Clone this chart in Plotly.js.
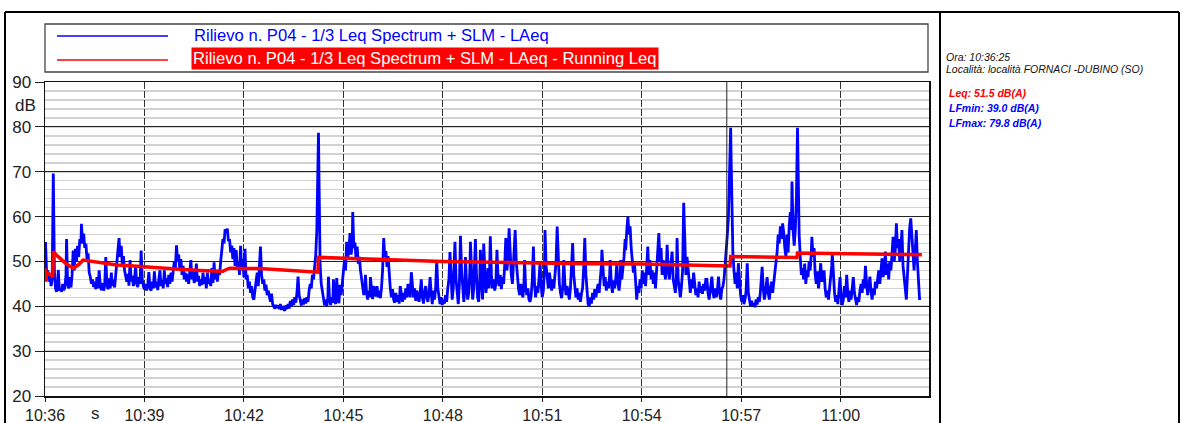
<!DOCTYPE html>
<html>
<head>
<meta charset="utf-8">
<script src="https://cdn.plot.ly/plotly-3.0.1.min.js"></script>
<style>
html,body{margin:0;padding:0;background:#fff;}
#chart{width:1183px;height:423px;}
</style>
</head>
<body>
<div id="chart"></div>
<script>
// ---------- DATA ----------
const seriesNames = [
  "Rilievo n. P04 - 1/3 Leq Spectrum + SLM - LAeq",
  "Rilievo n. P04 - 1/3 Leq Spectrum + SLM - LAeq - Running Leq"
];
// seconds elapsed since 10:36:25, tick labels every 3 minutes
const tickSeconds = [0,180,360,540,720,900,1080,1260,1440];
const tickLabels = ["10:36","10:39","10:42","10:45","10:48","10:51","10:54","10:57","11:00"];
const markerTime = 1234;
const yTicks = [20,30,40,50,60,70,80,90];

// LAeq short samples [seconds, dB]
const laeqPoints = [
[0,47.5],[1,54.3],[3,47],[5,48],[7,45.5],[9,46.8],[11,44.5],[13,46],[15,69.6],[17,48],[19,44],[21,43.2],[23,45],[24,48.1],[26,43.5],[28,44],[30,43.2],[32,45],[34,43.6],[36,44.2],[38,47],[39,55],[41,45],[43,44],[45,46.5],[47,44.2],[49,47],[51,52.4],[53,48],[55,52.8],[57,50],[59,53.5],[61,51],[63,55],[65,54],[66,58.4],[68,54],[70,56.2],[72,53],[74,54],[76,50.5],[78,51.8],[80,47.5],[82,46.6],[84,45],[86,46],[88,44.3],[90,45.5],[92,43.8],[94,46.5],[96,44],[98,48],[100,44.5],
[102,43.6],[104,45.2],[106,43.5],[108,44.5],[110,51],[112,45],[114,43.8],[116,46.2],[118,44],[120,47.5],[122,44.5],[124,46],[126,44.2],[128,47],[130,49.5],[132,53],[134,55.2],[136,51],[138,53.5],[140,49],[142,51.2],[144,48],[146,47],[148,45.5],[150,47.2],[152,44.6],[154,50.3],[156,45.5],[158,46.8],[160,44.5],[162,46],[164,49],[166,45],[168,44.3],[170,46.5],[172,45],[174,52.4],[176,46],[178,44.5],[180,43.8],[182,45],[184,43.5],[186,44.8],[188,47.6],[190,44],[192,43.5],[194,45.5],[196,44],[198,47.8],[200,44.2],
[202,45.5],[204,43.6],[206,46],[208,48],[210,44.5],[212,45.8],[214,44],[216,48],[218,45],[220,46.2],[222,44.3],[224,47],[226,45],[228,47.5],[230,45.5],[232,47.5],[234,50],[236,48.5],[238,53.6],[240,50],[242,51.5],[244,48],[246,50.5],[248,47],[250,49],[252,46],[254,47.5],[256,45.5],[258,47.2],[260,45],[262,47.5],[264,50.3],[266,46],[268,47.8],[270,45.2],[272,46.5],[274,49.5],[276,45.5],[278,46.8],[280,44.5],[282,46],[284,44.8],[286,47.5],[288,45],[290,46.5],[292,44],[294,47.5],[296,45],[298,46],[300,44.5],[302,48.5],[304,45.2],[306,49.8],[308,46],[310,47.5],[312,45.5],[314,48],[316,47],[318,50],[320,52.5],[322,55],[324,54],[326,57.2],[328,56.5],[330,57.3],
[332,54.5],[334,55],[336,52],[338,53.5],[340,50.5],[342,53],[344,49],[346,52.5],[348,48.5],[350,50],[352,47],[354,53.5],[356,48],[358,50.5],[360,46.5],[362,52.8],[364,46],[366,47],[368,44],[370,45.5],[372,43],[374,44.5],[376,42],[378,41.5],[380,43.5],[382,45],[384,47.5],[386,44.5],[388,50],[390,53.3],[392,47],[394,45],[396,46],[398,43.5],[400,44.8],[402,42.5],[404,43.5],[406,42],[408,41],[410,42.8],[412,40.5],[414,40],[416,39.5],[418,40.3],[420,39.6],
[422,40.2],[424,39.4],[426,40.5],[428,39.2],[430,40],[432,39.3],[434,39],[436,40.2],[438,39.4],[440,40.5],[442,39.5],[444,41.2],[446,40],[448,41.5],[450,40.3],[452,42],[454,40.8],[456,43],[458,46.6],[460,42.5],[462,41],[464,40.2],[466,41.5],[468,40.4],[470,41.8],[472,40.6],[474,42],[476,41],[478,43.5],[480,45],[482,44],[484,47],[486,46],[488,49],[490,51.5],[492,57],[494,70],[495,78.7],[496,68],[497,58],[498,49],[500,45],
[502,43],[504,41],[506,40.2],[508,41.5],[510,40],[512,42],[513,46.6],[515,41.5],[517,40.3],[519,42],[521,40.8],[522,46],[524,41.5],[526,40.5],[528,46.3],[530,41.8],[532,40.7],[534,44.8],[536,42.5],[538,45],[540,48.5],[542,50.3],[544,48],[546,54.4],[548,51],[550,52.3],[552,56.3],[554,51.5],[556,53.5],[557,61],[559,53],[561,54.2],[563,50.5],[565,53.3],[567,49.5],[569,51],[571,48],[573,46],[575,44.5],[577,42.5],[579,44],[580,47],[582,43],[584,41.5],[586,43.5],[588,42],[589,46.5],[591,43],[593,41.6],[595,44.5],[597,43],[599,42.2],[601,44.5],[603,42],[605,43.5],[607,41.8],[609,44],[611,48],[613,55.2],[615,51],[617,52.3],[619,48.8],[621,51.2],[623,47],
[625,44],[627,42],[629,43.8],[631,41.5],[633,40.8],[635,43],[637,41],[639,42.5],[641,40.6],[643,44.5],[645,42],[647,41],[649,43],[651,41.5],[653,44],[655,42],[657,45],[659,43],[661,42],[663,47.6],[665,43.5],[667,42],[669,44],[671,41.2],[673,43.5],[675,42.5],[677,41],[679,43],[681,46],[683,42],[685,40.6],[687,43],[689,44.5],[691,42],[693,41],[695,43],[697,46.5],[699,42.8],[701,40.5],[703,43.5],[705,41.5],[707,44],[709,50.3],[711,44],[713,41.5],[715,40.5],[717,42],[719,40.3],[721,41.5],[723,40.6],[725,42.5],[727,41],[729,44],[731,46],[733,52.1],[735,45],[737,41.5],[739,44],[741,50],[742,54.4],[744,46],[746,42],[748,40.5],[750,45],[752,55.7],[754,48],[756,43],[758,41],[760,44],[761,51],[763,45],[765,41.5],[767,43],[769,48],[770,54.4],[772,46],[774,41.5],[776,44],[778,50],[779,55],[781,47],[783,42],[785,41],[787,46],[788,52.6],[790,45],[792,41.5],[794,54],[796,47],[798,43],
[800,45],[802,48.5],[804,44],[806,55.6],[808,47],[810,44],[812,46],[814,43.5],[816,45],[818,52.6],[820,46],[822,44.5],[824,47],[826,43.8],[828,46.5],[830,45],[832,49],[834,55.2],[836,48],[838,50.5],[840,57.4],[842,51],[844,47],[846,45],[848,49],[850,54],[851,57],[853,50],[855,46],[857,44],[859,42.5],[861,45],[863,43],[865,42],[867,45.5],[868,50.3],[870,44],[872,42.5],[874,44],[876,41.5],[878,41],[880,42.5],[882,46],[884,53.3],[886,45],[888,42],[890,44.5],[892,43],[894,46],[896,49.6],[898,44.5],[900,42],[902,43.5],[904,48],[905,57],[907,49],[909,46.5],[911,44],[913,47.5],[915,45],[917,43.5],[919,46],[921,44],[923,47],[925,50],[927,57.8],[929,49],[931,45],[933,43],[935,41.8],[937,44],[939,50.3],[941,45],[943,42.5],[945,44.5],[947,43],[949,41.5],[951,44],[953,48],[955,54.1],[957,47],[959,43.5],[961,42],[963,44],[965,41.5],[967,43],[969,41],[971,42.8],[973,44],[975,48.5],[977,55.2],[979,47],[981,43],[983,40.5],[985,40],[987,42],[989,40.6],[991,43],[993,41.5],[995,43.8],[997,42],[999,44],
[1001,45],[1003,43],[1005,46],[1007,49],[1008,52.6],[1010,47],[1012,44.5],[1014,46.5],[1016,43.5],[1018,45.5],[1020,44],[1022,47],[1023,50.3],[1025,45],[1027,43],[1029,45.8],[1031,44],[1033,46],[1035,49.7],[1037,45],[1039,43.5],[1041,46],[1042,50.3],[1044,46],[1046,48],[1048,51],[1050,55],[1051,52.5],[1053,57],[1055,60],[1057,56],[1059,57.8],[1061,53],[1063,50],[1065,47.5],[1067,49.5],[1069,44],[1071,41.5],[1073,44.5],[1075,43],[1077,46],[1079,44],[1081,48],[1083,45],[1085,47.5],[1087,44.5],[1089,48.5],[1091,53.3],[1093,47],[1095,50.3],[1097,46],[1099,48],[1101,45],[1103,47.5],[1105,44],[1107,49],[1109,51],[1111,56.3],[1113,50],[1115,53],[1117,47],[1119,50.3],[1121,48],[1123,46],[1125,50],[1126,53.7],[1128,48],[1130,46],[1132,48.5],[1134,51],[1135,52.2],[1137,46],[1139,44],[1141,43],[1143,47],[1144,55.2],[1146,46],[1148,43],[1150,42],[1152,44.5],[1154,48],[1156,63.1],[1158,52],[1160,47],[1162,51],[1164,48],[1166,45],[1168,43],[1170,46],[1172,44],[1174,47.5],[1176,45],[1178,42.5],[1180,44],[1182,42],[1184,45.5],[1186,43],[1188,44.5],[1190,42.8],[1192,45],[1194,43.5],[1196,46],
[1198,46],[1200,43],[1202,41.5],[1204,43.5],[1206,45],[1207,46.6],[1209,43],[1211,41.8],[1213,44],[1215,42],[1217,43.5],[1219,46.6],[1221,43],[1223,41.5],[1225,43.8],[1227,44.5],[1229,46],[1231,49],[1233,52],[1235,56],[1237,60],[1239,70],[1241,79.8],[1242,72],[1243,62],[1245,52],[1247,48],[1249,45],[1251,47.5],[1253,44],[1255,49.6],[1257,45],[1259,42.5],[1261,41],[1263,42.5],[1265,40.5],[1267,41.5],[1269,43.5],[1271,49.6],[1273,43],[1275,40.8],[1277,40],[1279,41.2],[1281,40.2],[1283,40.6],[1285,39.8],[1287,41.5],[1289,40.4],[1291,42],[1293,41],[1295,43.5],[1297,46],[1298,48.8],[1300,44],[1302,41.5],[1304,43],[1306,45],[1307,46.5],[1309,43],[1311,41.5],[1313,44],[1315,45.5],[1317,43],[1319,45],[1321,47],[1323,49],[1325,52],[1327,56],[1329,54],[1331,57.8],[1333,55],[1335,58.5],[1337,56.5],[1339,53],[1341,51],[1343,56],[1345,52],[1347,58],[1349,61],[1351,57],[1352,67.8],[1354,57],[1356,53.5],[1358,57],[1360,64],[1362,79.8],[1363,68],[1365,56],[1367,51],[1369,47],[1371,48.5],[1373,46],[1375,49.5],[1377,45],[1379,48],[1381,46.5],[1383,50],[1385,48],[1387,52],[1388,55.5],[1390,51],[1392,53],[1394,47],[1396,45],[1398,47.8],[1400,44],
[1402,46.5],[1404,49.6],[1406,45.5],[1408,47],[1410,48],[1412,44],[1414,42],[1416,43.5],[1418,41.5],[1420,44],[1422,46],[1424,49],[1425,51.8],[1427,46],[1429,43],[1431,41],[1433,42.5],[1435,40.5],[1437,43],[1439,46.5],[1441,42],[1443,40.3],[1445,41.5],[1447,44.5],[1449,42],[1451,47],[1453,43],[1455,41],[1457,43.5],[1459,41.5],[1461,44],[1463,46.5],[1465,43],[1467,41],[1469,40.3],[1471,42],[1473,41],[1475,43.5],[1477,45],[1479,43],[1481,46],[1483,44],[1485,49],[1487,45],[1489,42.5],[1491,44.5],[1493,46.6],[1495,43.5],[1497,41.5],[1499,44],[1501,42.5],[1503,45.5],[1505,44],[1507,46],[1509,48],[1511,45],[1513,47.5],[1515,50.7],[1517,46.5],[1519,48],[1521,52.2],[1523,47],[1525,49.5],[1527,46],[1529,50],[1531,48],[1533,51.5],[1535,55.5],[1537,50],[1539,52.5],[1541,58.5],[1543,53],[1545,55],[1547,50],[1549,53],[1551,57],[1553,49],[1555,46],[1557,44],[1559,41.5],[1561,47],[1563,53],[1565,57.5],[1567,59.6],[1569,55],[1571,52],[1573,48],[1575,52],[1577,57],[1579,50],[1581,45.8],[1583,41.4]
];

// Running Leq [seconds, dB]
const runningLeqPoints = [
[0,48.5],[1,45.5],[3,47.5],[8,47.2],[14,46.6],[15,52.2],[20,51.5],[30,50.3],[40,49.3],[51,48.5],[60,49.2],[69,50.3],[80,50.1],[100,49.6],[130,49.2],[160,49.0],[190,48.7],[220,48.5],[250,48.2],[280,48.0],[311,47.8],[322,47.8],[330,48.3],[335,48.5],[360,48.4],[389,48.4],[431,48.1],[470,47.8],[494,47.6],[495,50.9],[552,50.6],[640,50.3],[720,50.0],[797,49.8],[900,49.7],[978,49.5],[1080,49.4],[1195,49.2],[1240,49.0],[1241,51.1],[1300,51.0],[1361,50.9],[1362,51.9],[1430,51.8],[1470,51.6],[1587,51.5]
];

const infoLines = ["Ora: 10:36:25", "Località: località FORNACI -DUBINO (SO)"];
const statLines = ["Leq: 51.5 dB(A)", "LFmin: 39.0 dB(A)", "LFmax: 79.8 dB(A)"];
const statColors = ["#ff0000", "#0000ff", "#0000ff"];

// ---------- LAYOUT HELPERS ----------
const W = 1183, H = 423;
const M = {l: 45, r: 254, t: 82, b: 27};
const PW = W - M.l - M.r, PH = H - M.t - M.b;
const px = x => (x - M.l) / PW;          // page pixel -> paper x
const py = y => (H - M.b - y) / PH;      // page pixel -> paper y
const FONT = "Liberation Sans, Arial, Helvetica, sans-serif";

const traces = [
  {x: laeqPoints.map(p => p[0]), y: laeqPoints.map(p => p[1]), type: "scatter", mode: "lines",
   name: seriesNames[0], line: {color: "#0000ff", width: 2.8}, hoverinfo: "skip"},
  {x: runningLeqPoints.map(p => p[0]), y: runningLeqPoints.map(p => p[1]), type: "scatter", mode: "lines",
   name: seriesNames[1], line: {color: "#ff0000", width: 3.5}, hoverinfo: "skip"}
];

const shapes = [
  // outer frame
  {type: "line", xref: "paper", yref: "paper", x0: px(5), x1: px(1179), y0: py(12), y1: py(12), line: {color: "#000", width: 2}},
  {type: "line", xref: "paper", yref: "paper", x0: px(5), x1: px(5), y0: py(12), y1: py(440), line: {color: "#000", width: 2}},
  {type: "line", xref: "paper", yref: "paper", x0: px(1179), x1: px(1179), y0: py(12), y1: py(440), line: {color: "#000", width: 2}},
  {type: "line", xref: "paper", yref: "paper", x0: px(940), x1: px(940), y0: py(12), y1: py(440), line: {color: "#000", width: 2}},
  // legend box
  {type: "rect", xref: "paper", yref: "paper", x0: px(45), x1: px(928), y0: py(24), y1: py(72), line: {color: "#444", width: 1.3}},
  {type: "line", xref: "paper", yref: "paper", x0: px(57), x1: px(168), y0: py(36), y1: py(36), line: {color: "#0000ff", width: 1.5}},
  {type: "line", xref: "paper", yref: "paper", x0: px(57), x1: px(168), y0: py(60), y1: py(60), line: {color: "#ff0000", width: 1.5}},
  // event marker
  {type: "line", xref: "x", yref: "paper", x0: markerTime, x1: markerTime, y0: 0, y1: 1, line: {color: "#222", width: 1}}
];

const annotations = [
  {xref: "paper", yref: "paper", x: px(192), y: py(35.5), xanchor: "left", yanchor: "middle", showarrow: false,
   text: seriesNames[0], font: {family: FONT, size: 16.6, color: "#0000ff"}},
  {xref: "paper", yref: "paper", x: px(191), y: py(58.5), xanchor: "left", yanchor: "middle", showarrow: false,
   text: seriesNames[1], font: {family: FONT, size: 16.6, color: "#ffffff"}, bgcolor: "#ff0000", borderpad: 1},
  {xref: "paper", yref: "paper", x: px(38), y: py(105), xanchor: "right", yanchor: "middle", showarrow: false,
   text: "dB", font: {family: FONT, size: 17, color: "#222"}},
  {xref: "paper", yref: "paper", x: px(95), y: py(413), xanchor: "center", yanchor: "middle", showarrow: false,
   text: "s", font: {family: FONT, size: 17, color: "#222"}}
];
infoLines.forEach((t, i) => annotations.push({
  xref: "paper", yref: "paper", x: px(944), y: py(57 + i * 12), xanchor: "left", yanchor: "middle", showarrow: false,
  text: "<i>" + t + "</i>", font: {family: FONT, size: 10.5, color: "#111"}}));
statLines.forEach((t, i) => annotations.push({
  xref: "paper", yref: "paper", x: px(947), y: py(93 + i * 15), xanchor: "left", yanchor: "middle", showarrow: false,
  text: "<b><i>" + t + "</i></b>", font: {family: FONT, size: 10.5, color: statColors[i]}}));

const layout = {
  width: W, height: H,
  margin: M,
  paper_bgcolor: "#fff", plot_bgcolor: "#fff",
  showlegend: false,
  font: {family: FONT, size: 17, color: "#222"},
  xaxis: {
    type: "linear", range: [0, 1600],
    tickmode: "array", tickvals: tickSeconds, ticktext: tickLabels,
    ticks: "outside", ticklen: 4, tickcolor: "#222", tickwidth: 1,
    showgrid: true, gridcolor: "#333", gridwidth: 1, griddash: "7px,2px",
    showline: true, linecolor: "#111", linewidth: 1.5, mirror: true,
    zeroline: false, tickfont: {family: FONT, size: 16, color: "#222"}
  },
  yaxis: {
    range: [20, 90],
    tickmode: "array", tickvals: yTicks,
    ticks: "outside", ticklen: 9, tickcolor: "#222", tickwidth: 1,
    showgrid: true, gridcolor: "#222", gridwidth: 1,
    minor: {dtick: 2, showgrid: true, gridcolor: "#d2d2d2", gridwidth: 1.6, ticks: ""},
    showline: true, linecolor: "#111", linewidth: 1.5, mirror: true,
    zeroline: false, tickfont: {family: FONT, size: 17, color: "#222"}
  },
  shapes: shapes,
  annotations: annotations
};

Plotly.newPlot("chart", traces, layout, {staticPlot: true, displayModeBar: false});
</script>
</body>
</html>
